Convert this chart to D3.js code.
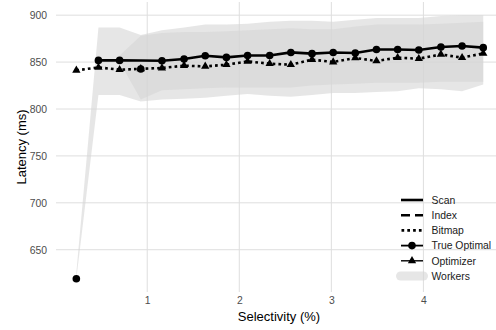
<!DOCTYPE html>
<html><head><meta charset="utf-8">
<script src="https://cdn.jsdelivr.net/npm/d3@7"></script>
<style>
html,body{margin:0;padding:0;background:#fff;}
svg{display:block;font-family:"Liberation Sans",Arial,sans-serif;}
</style></head>
<body>
<svg id="chart" width="496" height="330"></svg>
<script>
// ---- data ----
const selectivity = [0.23,0.47,0.70,0.93,1.16,1.40,1.63,1.86,2.09,2.33,2.56,2.79,3.02,3.26,3.49,3.72,3.95,4.19,4.42,4.65];
const scan = [null,851.8,851.8,851.7,851.5,853.3,856.8,855.0,857.1,857.1,860.3,859.0,860.3,859.7,863.5,863.5,862.9,866.1,867.2,865.4];
const indexScan = [619,null,null,null,null,null,null,null,null,null,null,null,null,null,null,null,null,null,null,null];
const bitmap = [841.2,844.3,841.9,842.8,843.7,846.2,845.4,847.2,850.7,848.3,847.2,852.6,850.1,854.4,851.2,854.7,853.6,858.2,854.7,859.3];
const trueOptimal = [619,851.8,851.8,842.6,851.5,853.3,856.8,855.0,857.1,857.1,860.3,859.0,860.3,859.7,863.5,863.5,862.9,866.1,867.2,865.4];
const optimizer = [841.2,844.3,841.9,842.8,843.7,846.2,845.4,847.2,850.7,848.3,847.2,852.6,850.1,854.4,851.2,854.7,853.6,858.2,854.7,859.3];
const workersALow  = [619,815,815,808,810,811,812,814,816,814,813,815,817,817,818,819,822,821,819,826];
const workersAHigh = [626,887,887,879,884,887,890,890,891,893,894,894,893,895,897,897,897,899,900,900];
const workersBLow  = [null,null,850,810,820,821,822,823,823,823,823,825,826,827,828,828,828,829,829,829];
const workersBHigh = [null,null,857,878,881,882,882,883,884,885,886,885,885,888,890,890,890,891,892,893];
const xTicks = [1,2,3,4];
const yTicks = [650,700,750,800,850,900];
const legendItems = ["Scan","Index","Bitmap","True Optimal","Optimizer","Workers"];

// ---- layout ----
const svg = d3.select("#chart");
const panel = {left:56, right:503.6, top:2, bottom:292};

const xExt = d3.extent(selectivity);
const xPad = (xExt[1]-xExt[0])*0.05;
const x = d3.scaleLinear().domain([xExt[0]-xPad, xExt[1]+xPad]).range([panel.left, panel.right]);

const allY = [].concat(scan, indexScan, bitmap, trueOptimal, optimizer, workersALow, workersAHigh, workersBLow, workersBHigh).filter(v => v != null);
const yExt = d3.extent(allY);
const yPad = (yExt[1]-yExt[0])*0.05;
const y = d3.scaleLinear().domain([yExt[0]-yPad, yExt[1]+yPad]).range([panel.bottom, panel.top]);

const gridColor = "#dedede";
// grid
const g = svg.append("g");
g.selectAll(".gy").data(yTicks).join("line")
  .attr("x1", panel.left).attr("x2", panel.right)
  .attr("y1", d => y(d)).attr("y2", d => y(d))
  .attr("stroke", gridColor).attr("stroke-width", 1);
g.selectAll(".gx").data(xTicks).join("line")
  .attr("y1", panel.top).attr("y2", panel.bottom)
  .attr("x1", d => x(d)).attr("x2", d => x(d))
  .attr("stroke", gridColor).attr("stroke-width", 1);

// axes labels via d3 axes (no domain/ticks lines)
const yAxis = svg.append("g").attr("transform", `translate(${panel.left-2},0)`)
  .call(d3.axisLeft(y).tickValues(yTicks).tickSize(0).tickPadding(7));
const xAxis = svg.append("g").attr("transform", `translate(0,${panel.bottom})`)
  .call(d3.axisBottom(x).tickValues(xTicks).tickFormat(d3.format("d")).tickSize(0).tickPadding(5));
[yAxis, xAxis].forEach(a => {
  a.select(".domain").remove();
  a.selectAll("text").attr("fill", "#4d4d4d").style("font-size", "10.4px").style("font-family", '"Liberation Sans",Arial,sans-serif');
});

svg.append("text").attr("x", 279).attr("y", 321).attr("text-anchor", "middle")
  .style("font-size", "13px").attr("fill", "#000").text("Selectivity (%)");
svg.append("text").attr("transform", "translate(26,147) rotate(-90)").attr("text-anchor", "middle")
  .style("font-size", "13px").attr("fill", "#000").text("Latency (ms)");

// ribbons
const ribFill = "#d5d5d5", ribOp = 0.6;
const area = (lo, hi) => d3.area()
  .defined((d,i) => lo[i] != null && hi[i] != null)
  .x((d,i) => x(selectivity[i])).y0((d,i) => y(lo[i])).y1((d,i) => y(hi[i]));
svg.append("path").attr("d", area(workersALow, workersAHigh)(selectivity)).attr("fill", ribFill).attr("fill-opacity", ribOp);
svg.append("path").attr("d", area(workersBLow, workersBHigh)(selectivity)).attr("fill", ribFill).attr("fill-opacity", ribOp);

// lines
const lineGen = arr => d3.line().defined((d,i) => arr[i] != null)
  .x((d,i) => x(selectivity[i])).y((d,i) => y(arr[i]));
svg.append("path").attr("d", lineGen(scan)(selectivity)).attr("fill","none").attr("stroke","#000").attr("stroke-width",2.6);
svg.append("path").attr("d", lineGen(indexScan)(selectivity)).attr("fill","none").attr("stroke","#000").attr("stroke-width",2.6).attr("stroke-dasharray","9,5");
svg.append("path").attr("d", lineGen(bitmap)(selectivity)).attr("fill","none").attr("stroke","#000").attr("stroke-width",2.6).attr("stroke-dasharray","2.7,3.1");

// points
svg.append("g").selectAll("circle").data(selectivity.map((s,i)=>i).filter(i => trueOptimal[i] != null)).join("circle")
  .attr("cx", i => x(selectivity[i])).attr("cy", i => y(trueOptimal[i])).attr("r", 3.8).attr("fill", "#000");
const tri = d3.symbol().type(d3.symbolTriangle).size(30);
svg.append("g").selectAll("path").data(selectivity.map((s,i)=>i).filter(i => optimizer[i] != null)).join("path")
  .attr("d", tri).attr("transform", i => `translate(${x(selectivity[i])},${y(optimizer[i])})`).attr("fill", "#000");

// legend
const lg = svg.append("g");
const rowY = [200, 215.2, 230.4, 245.6, 260.8, 276];
const kx0 = 401, kx1 = 423, kc = 412;
legendItems.forEach((name, i) => {
  const yy = rowY[i];
  if (i === 0) lg.append("line").attr("x1",kx0).attr("x2",kx1).attr("y1",yy).attr("y2",yy).attr("stroke","#000").attr("stroke-width",2.6);
  if (i === 1) lg.append("line").attr("x1",kx0).attr("x2",kx1).attr("y1",yy).attr("y2",yy).attr("stroke","#000").attr("stroke-width",2.6).attr("stroke-dasharray","9,5");
  if (i === 2) lg.append("line").attr("x1",kx0+0.5).attr("x2",kx1).attr("y1",yy).attr("y2",yy).attr("stroke","#000").attr("stroke-width",2.6).attr("stroke-dasharray","2.7,3.1");
  if (i === 3) {
    lg.append("line").attr("x1",kx0).attr("x2",kx1).attr("y1",yy).attr("y2",yy).attr("stroke","#000").attr("stroke-width",1.8);
    lg.append("circle").attr("cx",kc).attr("cy",yy).attr("r",3.8).attr("fill","#000");
  }
  if (i === 4) {
    lg.append("line").attr("x1",kx0).attr("x2",kx1).attr("y1",yy).attr("y2",yy).attr("stroke","#000").attr("stroke-width",1.4);
    lg.append("path").attr("d", tri).attr("transform", `translate(${kc},${yy})`).attr("fill","#000");
  }
  if (i === 5) lg.append("rect").attr("x",396).attr("y",yy-4.5).attr("width",32).attr("height",9).attr("rx",4.5)
    .attr("fill", ribFill).attr("fill-opacity", ribOp);
  lg.append("text").attr("x", 431.5).attr("y", yy).attr("dy","0.36em").style("font-size","10.4px").attr("fill","#1a1a1a").text(name);
});
</script>
</body></html>
